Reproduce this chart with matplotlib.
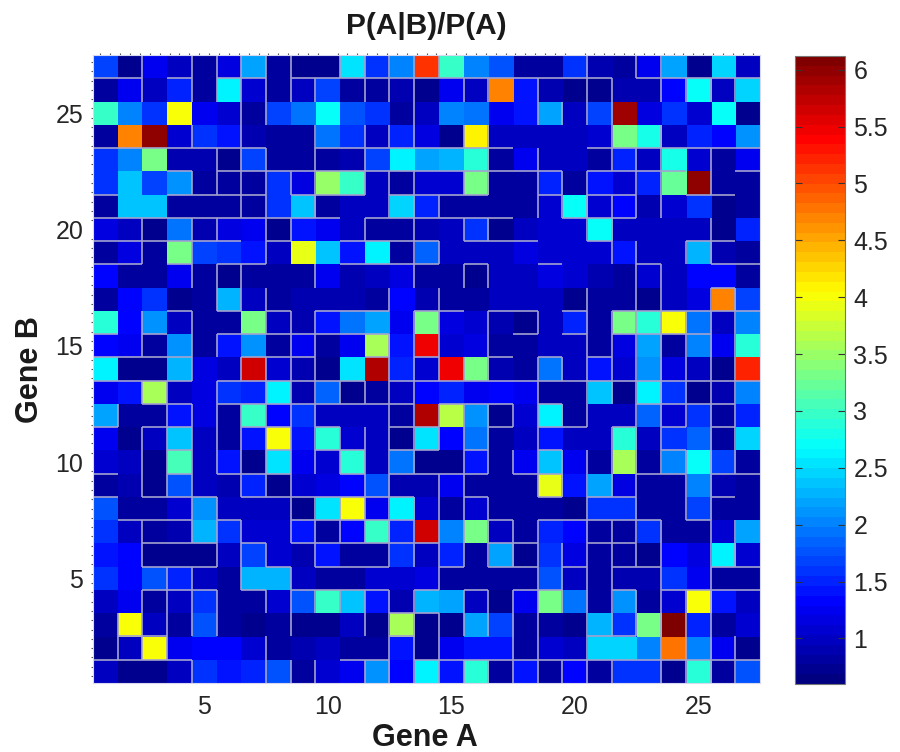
import numpy as np
import matplotlib
matplotlib.use('Agg')
import matplotlib.pyplot as plt
from matplotlib.colors import LinearSegmentedColormap
from matplotlib.ticker import MultipleLocator

plt.rcParams['font.family'] = ['Liberation Sans', 'DejaVu Sans']

## rows listed from the top of the picture (gene B = 27) down to gene B = 1
r27 = [1.7, .75, 1.25, 1.0, .8, 1.2, 2.2, .8, .75, .75, 2.5, 1.6, 2.0, 5.1, 2.95, 2.0, 1.8, .8, .8, 1.6, .9, .85, 1.25, 2.2, .7, 2.45, .95]
r26 = [.85, 1.25, .95, 1.5, .85, 2.65, 1.05, .85, 1.0, 1.7, .85, .8, .9, .7, 1.25, .95, 4.7, 1.45, .9, .75, .75, .9, .9, 1.3, 2.7, 1.0, 2.45]
r25 = [2.95, 2.05, 1.6, 4.05, 1.25, 1.1, .85, 1.7, 1.9, 2.7, 1.8, 1.6, .8, .95, 2.0, 1.95, 1.25, 1.45, 2.2, .95, 1.65, 5.9, 1.15, 1.55, 1.05, 2.7, .75]
r24 = [.8, 4.7, 6.0, 1.05, 1.55, 1.4, .9, .85, .85, 1.95, 1.6, .95, 1.5, 1.2, .75, 4.1, 1.0, 1.0, .95, 1.0, 1.05, 3.3, 2.8, 1.0, 1.5, 1.3, 2.15]
r23 = [1.6, 2.05, 3.3, .9, .9, .7, 1.65, .85, .85, .8, .9, 1.7, 2.6, 2.2, 2.25, 2.9, .8, 1.25, .95, .95, .85, 1.5, 1.0, 2.8, 1.1, .85, 1.25]
r22 = [1.6, 2.4, 1.65, 2.15, .85, .8, .85, 1.6, 1.15, 3.5, 3.0, 1.0, .8, 1.05, 1.1, 3.35, .85, .85, 1.5, .85, 1.4, 1.1, 1.5, 3.25, 5.95, .85, .85]
r21 = [.85, 2.4, 2.4, .85, .8, .85, .8, 1.6, 2.35, .8, 1.0, .95, 2.45, 1.5, .8, .85, .85, .85, 1.05, 2.7, 1.05, 1.3, .9, 1.05, 1.6, .75, .85]
r20 = [1.2, .95, .7, 1.95, .9, 1.15, 1.25, .72, 1.4, 1.25, 1.0, .85, .85, .9, 1.0, 1.6, .72, .95, 1.05, 1.05, 2.7, 1.0, 1.0, 1.0, .95, .72, 1.5]
r19 = [.85, 1.15, .85, 3.35, 1.7, 1.55, 1.45, .95, 3.9, 2.4, 1.4, 2.65, .85, 1.85, 1.0, 1.0, 1.0, 1.2, 1.05, 1.05, 1.05, 1.4, 1.0, .95, 2.3, .9, .8]
r18 = [1.35, .8, .8, 1.25, .85, .72, .85, .85, .85, 1.25, .9, 1.0, 1.2, .85, .85, .72, .95, 1.0, 1.2, 1.05, .9, .85, 1.1, .95, 1.35, 1.35, .8]
r17 = [.8, 1.35, 1.55, .75, .85, 2.25, .95, .85, .9, .9, .9, .8, 1.35, .9, .8, .85, 1.0, .95, .95, .7, .85, .85, .75, .95, 1.15, 4.7, 1.7]
r16 = [2.85, 1.35, 2.15, 1.0, .85, .85, 3.35, 1.0, .9, 1.4, 1.9, 2.2, 1.25, 3.35, 1.15, 1.05, .9, .72, 1.0, 1.5, .85, 3.3, 2.9, 4.05, 1.9, .95, 2.0]
r15 = [1.3, 1.25, .8, 2.15, .85, 1.45, 2.1, .85, 1.25, .8, 1.25, 3.6, 1.45, 5.5, 1.05, 1.15, .85, .85, 1.0, 1.0, .8, 1.2, 2.2, .8, 2.05, 1.25, 2.9]
r14 = [2.6, .72, .72, 2.3, 1.15, .95, 5.65, 1.1, .9, .72, 2.5, 5.85, 1.5, 1.05, 5.5, 3.35, .9, .85, 1.9, .95, 1.45, 1.1, 2.15, 1.2, 1.0, .75, 5.2]
r13 = [1.25, 1.4, 3.6, .95, 1.15, 1.55, 1.5, 2.65, .9, 1.85, .72, .8, 1.0, 1.35, 1.5, 1.25, 1.35, 1.25, .8, .8, 2.4, .75, 2.65, 1.6, .72, .9, 2.0]
r12 = [2.2, .82, .82, 1.45, 1.2, .8, 3.0, 1.3, 1.6, 1.0, .95, 1.0, .85, 5.85, 3.65, 2.15, .75, 1.05, 2.65, .82, .95, 1.0, 1.85, 1.05, 1.6, .85, 1.5]
r11 = [1.25, .75, 1.0, 2.35, .95, .8, 1.45, 4.05, 1.4, 2.85, 1.05, .95, .75, 2.55, 1.3, 1.95, .85, .95, 1.45, .95, 1.0, 2.9, .95, 1.6, 1.85, .85, 2.45]
r10 = [1.05, 1.0, .75, 3.05, .95, 1.4, .75, 2.5, 1.25, 1.1, 2.85, 1.0, 1.9, .7, .72, 1.45, .85, 1.25, 2.35, 1.25, .8, 3.6, .85, 2.0, 2.75, 1.7, .8]
r09 = [.82, .9, .75, 1.75, 1.0, .9, 1.5, .72, 1.05, 1.15, 1.35, 1.75, .9, .9, 1.25, .85, .85, .82, 3.9, 1.4, 2.2, 1.2, .85, .85, 2.0, .9, .82]
r08 = [1.8, .85, .85, 1.05, 2.15, 1.0, 1.0, 1.0, .72, 2.5, 4.05, 1.25, 2.65, 1.1, .8, 1.05, .85, .85, .82, .75, 1.6, 1.6, .85, .85, 1.65, .85, .8]
r07 = [1.55, 1.0, .82, .9, 2.25, 1.6, 1.05, 1.05, 1.45, .78, 1.35, 3.0, 1.5, 5.65, 2.05, 3.35, 1.0, .85, 1.5, 1.35, .85, .85, 1.55, .85, .82, 1.05, 2.2]
r06 = [1.45, 1.3, .72, .72, .75, 1.0, 1.7, 1.05, .9, 1.4, .78, .78, 1.6, .95, 1.5, .85, 2.2, .72, 1.55, 1.2, .85, .8, .7, 1.35, 1.15, 2.65, 1.1]
r05 = [1.55, 1.3, 1.8, 1.5, .95, .85, 2.3, 2.25, 1.0, .85, .85, 1.05, 1.1, 1.2, .85, .85, .85, .85, 1.8, .95, .85, .9, .9, 1.55, 1.25, .85, .85]
r04 = [.95, 1.25, .82, 1.0, 1.6, .8, .82, 1.05, 1.75, 3.0, 2.4, 1.45, .9, 2.25, 2.2, .95, .72, 1.25, 3.35, 1.9, .85, 2.15, .85, 1.05, 4.05, 1.4, 1.0]
r03 = [.78, 4.05, .95, .85, 1.75, .78, .75, .85, .75, .75, 1.0, .75, 3.6, .72, .75, 2.2, 1.65, .8, .85, .72, 2.3, 1.6, 3.3, 6.1, 1.5, .85, 1.1]
r02 = [.75, 1.0, 4.05, 1.25, 1.3, 1.3, 1.05, .85, .9, .95, .8, .8, 1.4, .75, 1.25, 1.4, 1.4, .8, 1.1, .95, 2.45, 2.45, 2.05, 4.8, 2.05, 1.25, .75]
r01 = [1.0, .75, .75, .95, 1.6, 1.4, 1.5, 1.75, .8, 1.05, 1.25, 2.15, 1.3, 2.65, 1.45, 2.85, .82, 1.4, .8, 1.3, .8, 1.55, 1.55, .75, 2.85, .8, 1.75]

matrix = np.array([r27, r26, r25, r24, r23, r22, r21, r20, r19, r18, r17, r16, r15, r14,
                   r13, r12, r11, r10, r09, r08, r07, r06, r05, r04, r03, r02, r01])

## gray outlines: for each row (top to bottom) the columns k with a line between k and k+1
vert_lines = [
    [2, 4, 5, 6, 7, 8, 10, 11, 12, 13, 14, 20, 22, 23],
    [2, 4, 5, 6, 7, 8, 9, 11, 12, 13, 15, 16, 18, 20, 21, 23, 24, 25, 26],
    [6, 7, 13, 18, 19, 20, 21],
    [4, 6, 9, 11, 12, 13, 15, 16, 21, 23],
    [5, 6, 7, 9, 11, 16, 18, 21, 22, 23, 25],
    [4, 5, 6, 7, 8, 9, 11, 12, 13, 15, 16, 18, 19, 20, 22, 23, 25],
    [6, 7, 9, 12, 13, 14, 18, 19, 20, 21, 22, 23],
    [2, 4, 5, 7, 8, 11, 13, 15, 16, 20, 21, 25],
    [2, 4, 7, 13, 14, 21, 22, 24, 25],
    [4, 5, 6, 9, 13, 15, 16, 22, 23],
    [5, 6, 7, 12, 14, 20, 22, 23, 25, 26],
    [2, 4, 7, 8, 9, 13, 14, 16, 18, 20, 21, 22, 23, 24, 25, 26],
    [2, 4, 5, 8, 9, 12, 13, 14, 16, 20, 21, 22, 23, 24, 25, 26],
    [4, 6, 7, 8, 9, 12, 13, 14, 15, 16, 18, 19, 20, 21, 22, 23, 24, 25, 26],
    [2, 3, 5, 7, 8, 9, 10, 11, 12, 13, 18, 20, 21, 22, 23, 24, 25, 26],
    [1, 3, 4, 5, 6, 7, 8, 9, 12, 13, 14, 15, 16, 17, 18, 19, 20, 22, 23, 24, 25, 26],
    [2, 3, 4, 5, 6, 7, 8, 9, 10, 11, 12, 13, 14, 15, 16, 18, 21, 22, 23, 25, 26],
    [2, 3, 4, 5, 6, 7, 8, 9, 10, 11, 12, 13, 15, 16, 17, 18, 19, 20, 21, 22, 23, 24, 25, 26],
    [2, 3, 4, 6, 7, 8, 11, 12, 14, 15, 18, 19, 20, 21, 22, 24, 25],
    [4, 5, 8, 9, 10, 11, 12, 13, 14, 15, 16, 20, 22, 24, 25],
    [2, 4, 5, 6, 8, 9, 10, 11, 12, 13, 14, 15, 16, 17, 18, 20, 21, 22, 23, 25, 26],
    [2, 5, 6, 7, 9, 12, 13, 14, 15, 16, 17, 18, 19, 20, 21, 22, 23, 25, 26],
    [3, 4, 6, 8, 14, 18, 19, 20, 21, 23, 25],
    [2, 3, 4, 5, 7, 8, 9, 10, 11, 12, 13, 15, 16, 17, 18, 19, 20, 21, 22, 23, 24, 25],
    [1, 2, 3, 4, 5, 8, 11, 12, 13, 14, 15, 16, 17, 18, 20, 21, 22, 23, 24, 25],
    [1, 2, 3, 7, 12, 13, 14, 17, 18, 20, 23, 24, 25, 26],
    [4, 7, 8, 9, 11, 12, 13, 14, 15, 16, 17, 18, 19, 20, 21, 23, 24, 25, 26],
]

## for each boundary between two rows (top to bottom) the columns that have a line
horiz_lines = [
    [1, 2, 4, 6, 7, 9, 10, 11, 12, 13, 14, 15, 16, 17, 18, 19, 20, 21, 23, 24, 25, 26, 27],
    [],
    [],
    [1, 2, 3, 4, 5, 6, 7, 10, 11, 12, 13, 14, 15, 16, 17, 21, 22, 23, 24, 25, 26, 27],
    [4, 6, 7, 8, 9, 10, 11, 12, 13, 14, 15, 16, 17, 18, 19, 21, 22, 23, 24, 27],
    [1, 4, 5, 6, 7, 9, 10, 11, 13, 14, 15, 16, 19, 21, 22, 25, 26],
    [1, 2, 3, 4, 5, 6, 7, 8, 9, 10, 12, 13, 14, 15, 16, 17, 20, 21, 22],
    [1, 2, 3, 4, 5, 6, 8, 11, 12, 13, 14, 16, 17, 18, 21, 25, 26],
    [1, 2, 4, 6, 7, 11, 12, 13, 14, 16, 19, 23, 26, 27],
    [26],
    [4, 6, 8, 10, 11, 12, 14, 15, 17, 18, 20, 22, 23, 24, 25, 26, 27],
    [1, 3, 6, 7, 8, 9, 10, 11, 12, 18, 20, 22, 23, 24, 25],
    [1, 2, 3, 4, 7, 8, 9, 12, 14, 17, 19, 21],
    [1, 2, 3, 4, 6, 7, 8, 9, 10, 11, 13, 14, 15, 16, 17, 18, 19, 20, 21, 22, 23, 24, 25, 26, 27],
    [3, 4, 6, 7, 8, 9, 10, 11, 12, 13, 15, 16, 17, 19, 23, 24, 25, 26],
    [1, 3, 4, 7, 8, 10, 13, 14, 17, 19, 20, 22, 24, 26],
    [4, 8, 10, 11, 13, 14, 16, 19, 24],
    [1, 4, 6, 7, 8, 11, 13, 14, 15, 16, 18, 19, 23, 24, 26, 27],
    [1, 3, 4, 5, 7, 8, 9, 10, 11, 12, 13, 16, 19, 21, 22, 26],
    [2, 3, 4, 6, 9, 10, 11, 12, 13, 17, 19, 20, 21, 22, 23, 25],
    [3, 4, 5, 7, 9, 10, 11, 12, 13, 14, 17, 18, 21, 22],
    [3, 4, 5, 8, 10, 11, 12, 15, 17, 18, 20, 22, 23, 26, 27],
    [3, 4, 5, 7, 9, 10, 11, 12, 14, 16, 18, 19, 22, 24, 25, 26, 27],
    [13, 14],
    [2, 3, 13, 21, 22],
    [1, 2, 3, 4, 11, 12, 14, 15, 16, 17, 18, 19, 20, 21, 22, 23, 24, 25, 26, 27],
]

tick_vals = [5, 10, 15, 20, 25]
cbar_ticks = [1, 1.5, 2, 2.5, 3, 3.5, 4, 4.5, 5, 5.5, 6]
cbar_labels = ['1', '1.5', '2', '2.5', '3', '3.5', '4', '4.5', '5', '5.5', '6']

## the old matlab jet, slightly different from the matplotlib one
jet_stops = [(0, (0, 0, .5)), (.125, (0, 0, 1)), (.375, (0, 1, 1)), (.625, (1, 1, 0)), (.875, (1, 0, 0)), (1, (.5, 0, 0))]

n = matrix.shape[0]
text_color = '#262626'
line_color = '#a3a3cf'
jet64 = LinearSegmentedColormap.from_list('jet64', jet_stops, N=64)

fig = plt.figure(figsize=(9, 7.52), dpi=100)
ax = fig.add_axes([93 / 900, 1 - 683 / 752, 667 / 900, 628 / 752])
cax = fig.add_axes([795 / 900, 1 - 684 / 752, 50 / 900, 628 / 752])

im = ax.imshow(matrix[::-1], origin='lower', cmap=jet64, vmin=0.6, vmax=6.12,
               extent=[0.5, n + 0.5, 0.5, n + 0.5], aspect='auto', interpolation='nearest')

for i, cols in enumerate(vert_lines):
    y = n - i
    ax.vlines([k + 0.5 for k in cols], y - 0.5, y + 0.5, color=line_color, lw=1.2)
for i, cols in enumerate(horiz_lines):
    y = n - i - 0.5
    ax.hlines([y] * len(cols), [k - 0.5 for k in cols], [k + 0.5 for k in cols], color=line_color, lw=1.2)

ax.set_xticks(tick_vals)
ax.set_yticks(tick_vals)
ax.tick_params(length=0, labelsize=18, labelcolor=text_color, pad=7)
ax.tick_params(axis='x', pad=9)
## the tiny dots along the left and top border
ax.xaxis.set_minor_locator(MultipleLocator(0.4))
ax.yaxis.set_minor_locator(MultipleLocator(0.4))
ax.tick_params(which='minor', direction='out', length=1.2, width=0.8, color='#555555',
               top=True, bottom=False, left=True, right=False)
for side in ax.spines.values():
    side.set_color('#d8d8ee')
    side.set_linewidth(0.8)

ax.set_xlabel('Gene A', fontsize=22, fontweight='bold', color='#1a1a1a', va='center')
ax.xaxis.set_label_coords((425 - 93) / 667, -(738 - 683) / 628)
ax.set_ylabel('Gene B', fontsize=22, fontweight='bold', color='#1a1a1a', va='center')
ax.yaxis.set_label_coords((30 - 93) / 667, (683 - 370) / 628)
fig.text(426 / 900, 1 - 26 / 752, 'P(A|B)/P(A)', fontsize=21.5, fontweight='bold', color='#1a1a1a',
         ha='center', va='center')

cbar = fig.colorbar(im, cax=cax, ticks=cbar_ticks)
cbar.ax.set_yticklabels(cbar_labels)
cbar.ax.minorticks_off()
cbar.ax.tick_params(direction='in', length=5, labelsize=18, labelcolor=text_color, left=True, right=True,
                    width=0.8, pad=6, color='#333333')
cbar.outline.set_edgecolor('#777777')
cbar.outline.set_linewidth(0.8)

fig.savefig('out.png', dpi=100)
